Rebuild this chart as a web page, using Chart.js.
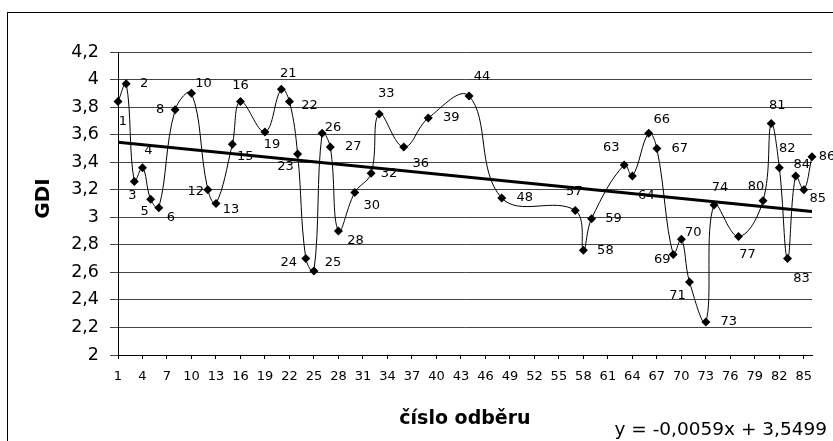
<!DOCTYPE html>
<html lang="cs">
<head>
<meta charset="utf-8">
<title>GDI – číslo odběru</title>
<script src="https://cdn.jsdelivr.net/npm/chart.js@4.4.1/dist/chart.umd.min.js"></script>
<style>
  html, body { margin: 0; padding: 0; background: #fff; }
  #wrap { position: relative; width: 833px; height: 441px; overflow: hidden; }
</style>
</head>
<body>
<div id="wrap"><canvas id="gdiChart" width="833" height="441"></canvas></div>
<script>
// --- Data ---
const sampleNo = [1, 2, 3, 4, 5, 6, 8, 10, 12, 13, 15, 16, 19, 21, 22, 23, 24, 25, 26, 27, 28, 30, 32, 33,
  36, 39, 44, 48, 57, 58, 59, 63, 64, 66, 67, 69, 70, 71, 73, 74, 77, 80, 81, 82, 83, 84, 85, 86];
const gdiValues = [3.84, 3.97, 3.26, 3.36, 3.13, 3.07, 3.78, 3.90, 3.20, 3.10, 3.53, 3.84, 3.62, 3.93, 3.84, 3.46, 2.70, 2.61, 3.61, 3.51, 2.90, 3.18, 3.32, 3.75,
  3.51, 3.72, 3.88, 3.14, 3.05, 2.76, 2.99, 3.38, 3.30, 3.61, 3.50, 2.73, 2.84, 2.53, 2.24, 3.09, 2.86, 3.12, 3.68, 3.36, 2.70, 3.30, 3.20, 3.44];

// axis ticks
const xTicks = [1, 4, 7, 10, 13, 16, 19, 22, 25, 28, 31, 34, 37, 40, 43, 46, 49, 52, 55, 58, 61, 64, 67, 70, 73, 76, 79, 82, 85];
const yTicks = [2, 2.2, 2.4, 2.6, 2.8, 3, 3.2, 3.4, 3.6, 3.8, 4, 4.2];

// linear trend shown on the chart (y = -0,0059x + 3,5499)
const trendSlope = -0.0059;
const trendIntercept = 3.5499;
const trendRange = [1, 86];

// --- Label placement (pixel offset of each point label from its marker) ---
const labelOffsets = [
  [5, 20], [18, 0], [-2, 14], [6, -17], [-6, 12], [12, 10], [-15, 0], [12, -10], [-12, 2], [15, 6], [13, 12], [0, -16],
  [7, 13], [7, -16], [20, 4], [-12, 13], [-17, 4], [19, -8], [11, -6], [23, 0], [17, 10], [17, 13], [18, 0], [7, -20],
  [17, 17], [23, 0], [13, -19], [23, 0], [-1, -19], [22, 0], [22, 0], [-13, -17], [14, 20], [13, -14], [23, 0], [-11, 5],
  [12, -7], [-12, 14], [23, 0], [6, -17], [9, 18], [-7, -14], [6, -18], [8, -19], [14, 20], [6, -11], [14, 9], [15, 0]
];

const FONT = '"DejaVu Sans", "Liberation Sans", Arial, sans-serif';

function formatComma(v) {
  return String(Math.round(v * 10) / 10).replace('.', ',');
}

// --- Plugin: point labels, axis titles, equation, outer frame ---
const extrasPlugin = {
  id: 'gdiExtras',
  beforeDraw(chart) {
    const ctx = chart.ctx;
    ctx.save();
    ctx.strokeStyle = '#000';
    ctx.lineWidth = 1;
    ctx.strokeRect(7.5, 12.5, 900, 500);
    ctx.restore();
  },
  afterDatasetsDraw(chart) {
    const ctx = chart.ctx;
    const meta = chart.getDatasetMeta(0);
    ctx.save();
    ctx.font = '13px ' + FONT;
    ctx.fillStyle = '#000';
    ctx.textAlign = 'center';
    ctx.textBaseline = 'middle';
    meta.data.forEach((pt, i) => {
      const off = labelOffsets[i] || [12, 0];
      ctx.fillText(String(sampleNo[i]), pt.x + off[0], pt.y + off[1]);
    });
    ctx.restore();
  },
  afterDraw(chart) {
    const ctx = chart.ctx;
    const area = chart.chartArea;
    ctx.save();
    ctx.fillStyle = '#000';

    // y title
    ctx.font = 'bold 20px ' + FONT;
    ctx.textAlign = 'center';
    ctx.textBaseline = 'middle';
    ctx.translate(44, (area.top + area.bottom) / 2 - 5);
    ctx.rotate(-Math.PI / 2);
    ctx.fillText('GDI', 0, 0);
    ctx.setTransform(1, 0, 0, 1, 0, 0);

    // x title
    ctx.font = 'bold 19px ' + FONT;
    ctx.textBaseline = 'alphabetic';
    ctx.fillText('číslo odběru', 465, 424);

    // trend equation
    ctx.font = '18.5px ' + FONT;
    ctx.textAlign = 'right';
    const sign = trendIntercept >= 0 ? ' + ' : ' - ';
    const eq = 'y = ' + String(trendSlope).replace('.', ',') + 'x' + sign + String(Math.abs(trendIntercept)).replace('.', ',');
    ctx.fillText(eq, 827, 435);
    ctx.restore();
  }
};

// --- Chart ---
const ctx = document.getElementById('gdiChart');

new Chart(ctx, {
  type: 'scatter',
  data: {
    datasets: [
      {
        label: 'GDI',
        data: sampleNo.map((x, i) => ({ x: x, y: gdiValues[i] })),
        showLine: true,
        borderColor: '#000',
        borderWidth: 1,
        tension: 0.4,
        pointStyle: 'rectRot',
        pointRadius: 4.5,
        pointBackgroundColor: '#000',
        pointBorderColor: '#000',
        pointBorderWidth: 0,
        clip: false
      },
      {
        label: 'Lineární trend',
        data: trendRange.map(x => ({ x: x, y: trendIntercept + trendSlope * x })),
        showLine: true,
        borderColor: '#000',
        borderWidth: 3,
        pointRadius: 0,
        tension: 0
      }
    ]
  },
  options: {
    responsive: false,
    animation: false,
    devicePixelRatio: 1,
    layout: { padding: { top: 52, right: 21, left: 0, bottom: 0 } },
    plugins: {
      legend: { display: false },
      tooltip: { enabled: false }
    },
    scales: {
      x: {
        type: 'linear',
        min: 1,
        max: 86,
        afterBuildTicks: s => { s.ticks = xTicks.map(v => ({ value: v })); },
        afterFit: s => { s.height = 86; },
        grid: { drawOnChartArea: false, drawTicks: true, tickLength: 4, color: '#000' },
        border: { color: '#000' },
        ticks: {
          font: { family: FONT, size: 13 },
          color: '#000',
          padding: 10,
          maxRotation: 0,
          autoSkip: false
        }
      },
      y: {
        min: 2,
        max: 4.2,
        afterBuildTicks: s => { s.ticks = yTicks.map(v => ({ value: v })); },
        afterFit: s => { s.width = 118; },
        grid: { color: '#444', tickLength: 8 },
        border: { color: '#000' },
        ticks: {
          font: { family: FONT, size: 17.5 },
          color: '#000',
          padding: 11,
          callback: v => formatComma(v)
        }
      }
    }
  },
  plugins: [extrasPlugin]
});
</script>
</body>
</html>
